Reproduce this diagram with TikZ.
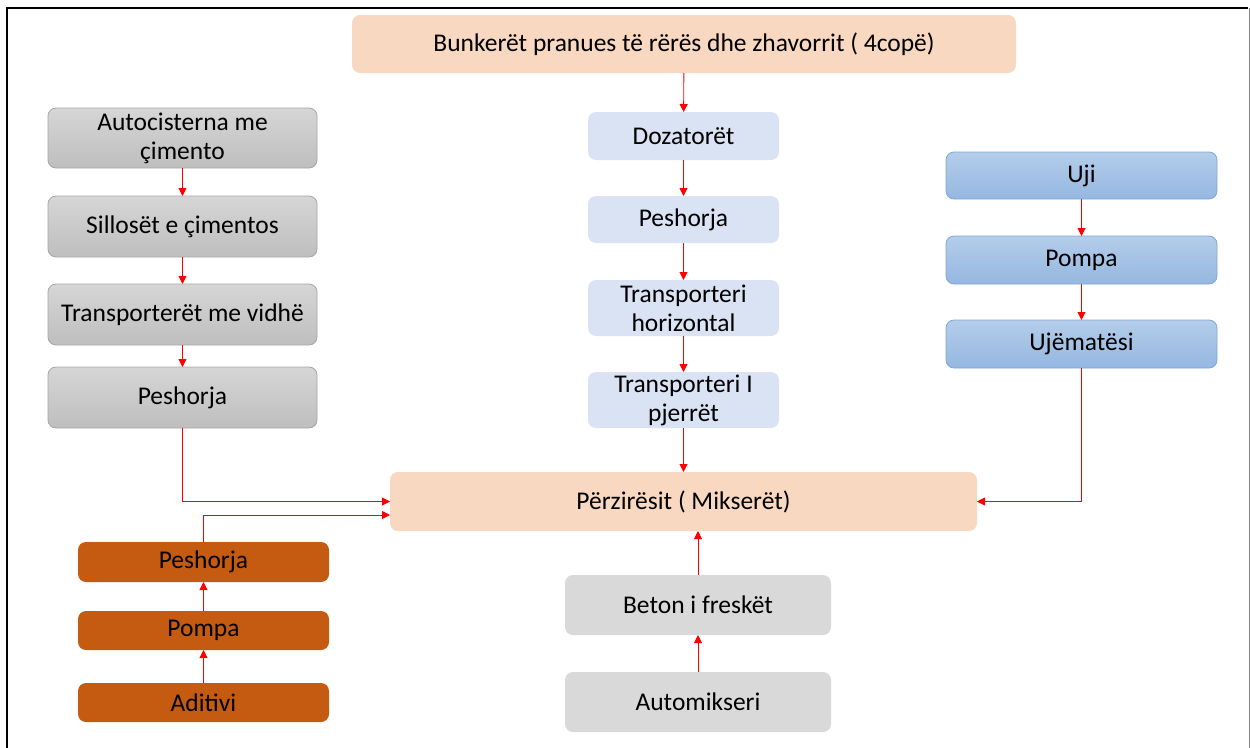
\documentclass[tikz,border=0pt]{standalone}
\usepackage{fontspec}
\setmainfont{Carlito}
\usetikzlibrary{arrows.meta}
\definecolor{peach}{RGB}{248,216,192}		% bunker and mixer
\definecolor{paleblue}{RGB}{218,227,243}		% aggregate line
\definecolor{rust}{RGB}{197,90,17}			% additive line
\definecolor{lightgrey}{RGB}{217,217,217}		% truck mixer line
\tikzset{					% Flow chart styles
	box/.style={rectangle,rounded corners=8pt,inner sep=0pt,outer sep=0pt,
		align=center,font=\fontsize{25.5}{29}\selectfont},
	cement/.style={box,draw={rgb,255:red,166;green,166;blue,166},line width=0.8pt,
		top color={rgb,255:red,214;green,214;blue,214},bottom color={rgb,255:red,190;green,190;blue,190}},
	water/.style={box,draw={rgb,255:red,126;green,166;blue,216},line width=0.8pt,
		top color={rgb,255:red,180;green,205;blue,234},bottom color={rgb,255:red,149;green,183;blue,224}},
	flow/.style={draw=red,line width=0.9pt,-{Triangle[length=8pt,width=8pt]}}
}

\begin{document}
\begin{tikzpicture}[x=1pt,y=-1pt]
	\useasboundingbox (0,0) rectangle (1250,747);
	% frame
	\draw[line width=2.5pt] (7,760) -- (7,8) -- (1248,8);
	\draw[gray,line width=1pt] (1249,8) -- (1249,760);
	% bunker and aggregate line
	\node[box,fill=peach,minimum width=664pt,minimum height=58pt] (bunker) at (684,44) {Bunkerët pranues të rërës dhe zhavorrit ( 4copë)};
	\node[box,fill=paleblue,minimum width=191pt,minimum height=48pt] (dozat) at (683.5,136) {Dozatorët};
	\node[box,fill=paleblue,minimum width=191pt,minimum height=47pt] (peshC) at (683.5,219.5) {Peshorja};
	\node[box,fill=paleblue,minimum width=191pt,minimum height=56pt] (transH) at (683.5,308) {Transporteri\\horizontal};
	\node[box,fill=paleblue,minimum width=191pt,minimum height=56pt] (transP) at (683.5,400) {Transporteri I\\pjerrët};
	% cement line
	\node[cement,minimum width=269pt,minimum height=60pt] (autocist) at (182.5,138) {Autocisterna me\\çimento};
	\node[cement,minimum width=269pt,minimum height=61pt] (sillos) at (182.5,226.5) {Sillosët e çimentos};
	\node[cement,minimum width=269pt,minimum height=61pt] (vidhe) at (182.5,314.5) {Transporterët me vidhë};
	\node[cement,minimum width=269pt,minimum height=61pt] (peshL) at (182.5,397.5) {Peshorja};
	% water line
	\node[water,minimum width=271pt,minimum height=47pt] (uji) at (1081.5,175.5) {Uji};
	\node[water,minimum width=271pt,minimum height=48pt] (pompaR) at (1081.5,260) {Pompa};
	\node[water,minimum width=271pt,minimum height=48pt] (ujemat) at (1081.5,344) {Ujëmatësi};
	% mixer
	\node[box,fill=peach,minimum width=587pt,minimum height=59pt] (mixer) at (683.5,501.5) {Përzirësit ( Mikserët)};
	% additive line
	\node[box,fill=rust,minimum width=251pt,minimum height=40pt] (peshO) at (203.5,562) {Peshorja};
	\node[box,fill=rust,minimum width=251pt,minimum height=39pt] (pompaO) at (203.5,630.5) {Pompa};
	\node[box,fill=rust,minimum width=251pt,minimum height=39pt] (aditivi) at (203.5,702.5) {Aditivi};
	% truck mixer line
	\node[box,fill=lightgrey,minimum width=266pt,minimum height=60pt] (beton) at (698,605) {Beton i freskët};
	\node[box,fill=lightgrey,minimum width=266pt,minimum height=60pt] (automik) at (698,702) {Automikseri};
	% connectors
	\draw[flow] (bunker) -- (dozat);
	\draw[flow] (dozat) -- (peshC);
	\draw[flow] (peshC) -- (transH);
	\draw[flow] (transH) -- (transP);
	\draw[flow] (transP) -- (mixer);
	\draw[flow] (autocist) -- (sillos);
	\draw[flow] (sillos) -- (vidhe);
	\draw[flow] (vidhe) -- (peshL);
	\draw[flow] (peshL.south) |- (mixer.west);
	\draw[flow] (uji) -- (pompaR);
	\draw[flow] (pompaR) -- (ujemat);
	\draw[flow] (ujemat.south) |- (mixer.east);
	\draw[flow] (aditivi) -- (pompaO);
	\draw[flow] (pompaO) -- (peshO);
	\draw[flow] (peshO.north) |- ([yshift=-13.5pt]mixer.west);
	\draw[flow] (automik) -- (beton);
	\draw[flow] (beton.north) -- (beton.north |- mixer.south);
\end{tikzpicture}
\end{document}
